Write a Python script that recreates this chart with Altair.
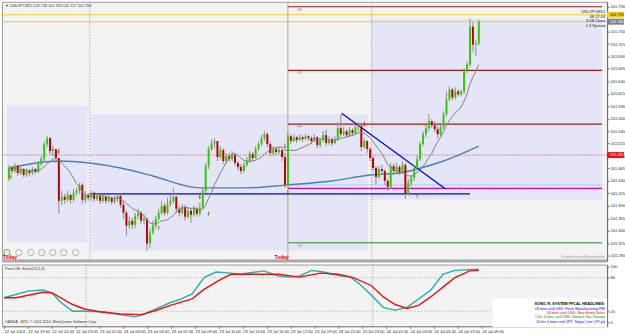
import json
import altair as alt
import pandas as pd

FONT = "Liberation Sans"

# ---------------- data ----------------
open0 = 101.444
close = [101.466, 101.460, 101.470, 101.456, 101.464, 101.452, 101.460, 101.456, 101.464, 101.458,
         101.474, 101.484, 101.514, 101.526, 101.500, 101.504, 101.486, 101.400, 101.408, 101.402,
         101.412, 101.402, 101.416, 101.420, 101.432, 101.402, 101.412, 101.406, 101.416, 101.404,
         101.410, 101.400, 101.408, 101.400, 101.406, 101.398, 101.404, 101.410, 101.392, 101.376,
         101.350, 101.360, 101.352, 101.370, 101.376, 101.360, 101.364, 101.314, 101.336, 101.350,
         101.364, 101.376, 101.390, 101.376, 101.394, 101.400, 101.408, 101.384, 101.376, 101.388,
         101.368, 101.380, 101.372, 101.384, 101.374, 101.386, 101.420, 101.470, 101.504, 101.516,
         101.520, 101.488, 101.502, 101.480, 101.490, 101.484, 101.492, 101.476, 101.468, 101.460,
         101.472, 101.480, 101.494, 101.486, 101.504, 101.514, 101.526, 101.534, 101.514, 101.496,
         101.504, 101.498, 101.502, 101.488, 101.432, 101.530, 101.520, 101.528, 101.522, 101.528,
         101.524, 101.530, 101.526, 101.520, 101.528, 101.512, 101.522, 101.532, 101.516, 101.524,
         101.516, 101.524, 101.546, 101.534, 101.540, 101.532, 101.542, 101.536, 101.548, 101.550,
         101.508, 101.520, 101.504, 101.486, 101.466, 101.448, 101.464, 101.460, 101.440, 101.428,
         101.470, 101.460, 101.468, 101.458, 101.472, 101.414, 101.436, 101.446, 101.466, 101.484,
         101.514, 101.534, 101.546, 101.560, 101.552, 101.544, 101.534, 101.548, 101.574, 101.604,
         101.624, 101.608, 101.620, 101.614, 101.620, 101.660, 101.674, 101.750, 101.714, 101.716,
         101.760]
high = [101.472, 101.470, 101.476, 101.472, 101.468, 101.466, 101.466, 101.464, 101.468, 101.466,
        101.480, 101.490, 101.520, 101.530, 101.528, 101.510, 101.504, 101.486, 101.420, 101.414,
        101.420, 101.414, 101.424, 101.426, 101.436, 101.436, 101.420, 101.416, 101.420, 101.418,
        101.416, 101.414, 101.412, 101.410, 101.412, 101.408, 101.410, 101.414, 101.412, 101.400,
        101.380, 101.368, 101.366, 101.376, 101.384, 101.380, 101.372, 101.366, 101.344, 101.360,
        101.370, 101.384, 101.400, 101.396, 101.406, 101.412, 101.426, 101.410, 101.390, 101.394,
        101.392, 101.386, 101.384, 101.390, 101.388, 101.396, 101.428, 101.476, 101.510, 101.524,
        101.526, 101.520, 101.510, 101.506, 101.496, 101.496, 101.500, 101.496, 101.480, 101.474,
        101.478, 101.488, 101.500, 101.498, 101.510, 101.520, 101.532, 101.540, 101.538, 101.518,
        101.510, 101.508, 101.508, 101.504, 101.496, 101.538, 101.534, 101.534, 101.530, 101.534,
        101.532, 101.534, 101.532, 101.530, 101.534, 101.530, 101.526, 101.540, 101.544, 101.530,
        101.528, 101.530, 101.558, 101.574, 101.548, 101.544, 101.548, 101.546, 101.554, 101.558,
        101.552, 101.526, 101.522, 101.508, 101.490, 101.470, 101.470, 101.472, 101.464, 101.444,
        101.476, 101.474, 101.476, 101.472, 101.480, 101.476, 101.444, 101.452, 101.472, 101.492,
        101.520, 101.540, 101.552, 101.574, 101.564, 101.560, 101.550, 101.554, 101.580, 101.620,
        101.630, 101.626, 101.628, 101.624, 101.624, 101.666, 101.680, 101.766, 101.760, 101.724,
        101.764]
low = [101.440, 101.454, 101.456, 101.450, 101.452, 101.448, 101.448, 101.450, 101.452, 101.454,
       101.456, 101.470, 101.480, 101.508, 101.494, 101.490, 101.476, 101.374, 101.392, 101.394,
       101.398, 101.394, 101.398, 101.410, 101.414, 101.394, 101.396, 101.400, 101.400, 101.398,
       101.400, 101.394, 101.396, 101.394, 101.396, 101.392, 101.394, 101.398, 101.386, 101.364,
       101.330, 101.344, 101.344, 101.346, 101.364, 101.354, 101.352, 101.300, 101.306, 101.332,
       101.344, 101.360, 101.372, 101.370, 101.372, 101.388, 101.394, 101.376, 101.368, 101.372,
       101.360, 101.364, 101.356, 101.368, 101.368, 101.370, 101.384, 101.416, 101.464, 101.500,
       101.506, 101.480, 101.484, 101.474, 101.474, 101.478, 101.480, 101.470, 101.460, 101.454,
       101.456, 101.468, 101.476, 101.480, 101.484, 101.500, 101.510, 101.520, 101.508, 101.490,
       101.490, 101.492, 101.494, 101.480, 101.426, 101.428, 101.514, 101.518, 101.516, 101.520,
       101.518, 101.522, 101.520, 101.514, 101.518, 101.506, 101.508, 101.518, 101.510, 101.512,
       101.510, 101.514, 101.520, 101.528, 101.530, 101.526, 101.528, 101.530, 101.532, 101.540,
       101.500, 101.504, 101.496, 101.480, 101.460, 101.434, 101.444, 101.454, 101.432, 101.420,
       101.424, 101.454, 101.456, 101.452, 101.456, 101.404, 101.410, 101.430, 101.440, 101.462,
       101.480, 101.510, 101.528, 101.540, 101.546, 101.538, 101.526, 101.530, 101.544, 101.570,
       101.600, 101.602, 101.604, 101.610, 101.610, 101.614, 101.656, 101.670, 101.700, 101.690,
       101.712]

# slow moving average
ma_bars = [0, 17, 38, 49, 65, 80, 95, 110, 123, 133, 139, 148, 160]
ma_vals = [101.466, 101.480, 101.466, 101.450, 101.426, 101.426, 101.432, 101.440,
           101.452, 101.456, 101.464, 101.480, 101.510]

# session boxes
box_x0 = [-0.67, 27.7, 123.3]
box_x1 = [26.7, 122.3, 202]
box_hi = [101.592, 101.574, 101.766]
box_lo = [101.316, 101.300, 101.402]

# horizontal levels
yellow_levels = [101.774, 101.760]
prev_close_level = [101.492]
pivot_levels = [101.790, 101.662, 101.554]
pivot_names = ["R2", "R1", "PP"]
cyan_level = [101.432]
magenta_level = [101.425]
green_level = [101.316]
green_name = ["S2"]
support_level = [101.414]
support_from = [27.7]
support_to = [157]
trend_bars = [113.3, 148.7]
trend_vals = [101.576, 101.424]

today_bar = 95
day_separators = [27.5, 123.5]

down_bars = [17, 65, 94, 121]
down_prices = [101.500, 101.408, 101.510, 101.554]
up_bars = [0.7, 51, 68, 95, 139]
up_prices = [101.448, 101.346, 101.374, 101.416, 101.410]

price_ticks = [101.290, 101.315, 101.340, 101.365, 101.390, 101.415, 101.440, 101.465,
               101.490, 101.515, 101.540, 101.565, 101.590, 101.615, 101.640, 101.665,
               101.690, 101.715, 101.740, 101.790]

time_tick_bars = [0, 8, 16, 24, 32, 40, 48, 56, 64, 72, 80, 88, 96, 104, 112, 120, 128, 136, 144, 152, 160]
time_labels = ["22 Jul 2014", "22 Jul 19:00", "22 Jul 21:00", "22 Jul 23:00", "23 Jul 01:00",
               "23 Jul 03:00", "23 Jul 05:00", "23 Jul 07:00", "23 Jul 09:00", "23 Jul 11:00",
               "23 Jul 13:00", "23 Jul 15:00", "23 Jul 17:00", "23 Jul 19:00", "23 Jul 21:00",
               "23 Jul 23:00", "24 Jul 01:00", "24 Jul 03:00", "24 Jul 05:00", "24 Jul 07:00",
               "24 Jul 09:00"]

teal_bars = [0, 8, 13, 16, 19, 23, 27, 33, 39, 44, 47, 52, 56, 59, 63, 67, 71, 76, 79, 87,
             92, 96, 99, 103, 107, 113, 116, 119, 123, 127, 131, 135, 143, 147, 151, 159]
teal_vals = [44, 56, 58, 53, 36, 20, 20, 19, 14, 10, 15, 27, 36, 41, 51, 80, 90, 88, 86, 92,
             83, 81, 83, 93, 90, 83, 81, 69, 49, 27, 22, 27, 58, 86, 93, 95]
red_bars = [0, 4, 13, 16, 23, 27, 32, 39, 46, 50, 56, 63, 67, 72, 76, 84, 92, 99, 106, 112,
            117, 123, 127, 131, 135, 139, 143, 147, 151, 156, 159]
red_vals = [44, 44, 54, 53, 32, 24, 19, 15, 14, 20, 31, 42, 59, 75, 86, 86, 86, 81, 88, 86,
            80, 66, 46, 32, 25, 31, 46, 63, 80, 92, 93]
stoch_levels = [20, 80]
stoch_ticks = [0, 20, 80, 100]

news_lines = ["18 mins until USD: Flash Manufacturing PMI",
              "34 mins until USD: New Home Sales",
              "1 hrs 4 mins until USD: Natural Gas Storage",
              "10 hrs 4 mins until JPY: Tokyo Core CPI y/y"]
news_colors = ["#0000ee", "#ee0000", "#008800", "#0000ee"]

# ---------------- build ----------------
opens = [open0] + close[:-1]
candles = pd.DataFrame({"bar": list(range(len(close))), "open": opens, "close": close,
                        "high": high, "low": low})
candles["dir"] = ["up" if c >= o else "down" for o, c in zip(opens, close)]

MAIN_H = 260
xs = alt.Scale(domain=[-0.67, 202], nice=False, zero=False)
ys = alt.Scale(domain=[101.280, 101.800], nice=False, zero=False)
ysi = alt.Scale(domain=[-6.8, 103.4], nice=False, zero=False)

main_xaxis = alt.Axis(labels=False, ticks=False, grid=False, domainColor="#a8a8a8",
                      domainWidth=3, title=None)
main_yaxis = alt.Axis(orient="right", values=price_ticks, format=".3f", labelFontSize=4,
                      labelFont=FONT, labelColor="#222", tickSize=2, tickColor="#666",
                      labelPadding=1, grid=False, domainColor="#666", title=None)


def X(f):
    return alt.X(f"{f}:Q", scale=xs, axis=main_xaxis)


def Y(f):
    return alt.Y(f"{f}:Q", scale=ys, axis=main_yaxis)


def txt(s, x, y, size=4.0, color="#222", align="left", weight="normal"):
    return alt.Chart(pd.DataFrame({"t": [s]})).mark_text(
        text=s, fontSize=size, color=color, align=align, baseline="middle",
        fontWeight=weight, font=FONT).encode(x=alt.value(x), y=alt.value(y))


def button(x, y, color):
    return alt.Chart(pd.DataFrame({"a": [0]})).mark_point(
        shape="circle", filled=False, size=40, strokeWidth=0.8, color=color, opacity=1
    ).encode(x=alt.value(x), y=alt.value(y))


boxes = alt.Chart(pd.DataFrame({"x0": box_x0, "x1": box_x1, "hi": box_hi, "lo": box_lo})) \
    .mark_rect(color="#e5e5f8").encode(x=X("x0"), x2="x1", y=Y("hi"), y2="lo")

yellow = alt.Chart(pd.DataFrame({"p": yellow_levels})).mark_rule(color="#f0d020", strokeWidth=1) \
    .encode(y=Y("p"))
prevc = alt.Chart(pd.DataFrame({"p": prev_close_level})).mark_rule(
    color="#f04040", strokeWidth=1, strokeDash=[1, 1.5]).encode(y=Y("p"))

seps = alt.Chart(pd.DataFrame({"b": day_separators})).mark_rule(
    color="#909090", strokeWidth=1, strokeDash=[1, 2]).encode(x=X("b"))
today = alt.Chart(pd.DataFrame({"b": [today_bar]})).mark_rule(color="#b9a57e", strokeWidth=1) \
    .encode(x=X("b"))

pivots = alt.Chart(pd.DataFrame({"p": pivot_levels, "x0": [today_bar] * 3, "x1": [202] * 3})) \
    .mark_rule(color="#9b1c1c", strokeWidth=1.2).encode(x=X("x0"), x2="x1", y=Y("p"))
cyan = alt.Chart(pd.DataFrame({"p": cyan_level, "x0": [today_bar], "x1": [202]})) \
    .mark_rule(color="#40c0d0", strokeWidth=1, strokeDash=[1, 1.5]).encode(x=X("x0"), x2="x1", y=Y("p"))
magenta = alt.Chart(pd.DataFrame({"p": magenta_level, "x0": [today_bar], "x1": [202]})) \
    .mark_rule(color="#d000d0", strokeWidth=1.3).encode(x=X("x0"), x2="x1", y=Y("p"))
greenl = alt.Chart(pd.DataFrame({"p": green_level, "x0": [today_bar], "x1": [202]})) \
    .mark_rule(color="#6aa86a", strokeWidth=1.5).encode(x=X("x0"), x2="x1", y=Y("p"))

support = alt.Chart(pd.DataFrame({"p": support_level, "x0": support_from, "x1": support_to})) \
    .mark_rule(color="#0000e0", strokeWidth=1.4).encode(x=X("x0"), x2="x1", y=Y("p"))
trend = alt.Chart(pd.DataFrame({"b": trend_bars, "v": trend_vals})) \
    .mark_line(color="#0000e0", strokeWidth=1.2).encode(x=X("b"), y=Y("v"))

slow_ma = alt.Chart(pd.DataFrame({"b": ma_bars, "v": ma_vals})) \
    .mark_line(color="#4a7fb8", strokeWidth=1.4, interpolate="monotone").encode(x=X("b"), y=Y("v"))

wicks = alt.Chart(candles).mark_rule(color="#8c8c8c", strokeWidth=1).encode(
    x=X("bar"), y=Y("low"), y2="high")
bodies = alt.Chart(candles).mark_bar(size=2).encode(
    x=X("bar"), y=Y("open"), y2="close",
    color=alt.Color("dir:N", scale=alt.Scale(domain=["up", "down"], range=["#33cc00", "#bb0000"]),
                    legend=None))

fast_ma = alt.Chart(candles).transform_window(
    ma="mean(close)", frame=[-9, 0], sort=[alt.SortField("bar")]
).mark_line(color="#808080", strokeWidth=1).encode(x=X("bar"), y=Y("ma"))

down_ar = alt.Chart(pd.DataFrame({"b": down_bars, "p": down_prices})).mark_point(
    shape="arrow", filled=True, color="#ee1111", size=28, angle=180, opacity=1).encode(x=X("b"), y=Y("p"))
up_ar = alt.Chart(pd.DataFrame({"b": up_bars, "p": up_prices})).mark_point(
    shape="arrow", filled=True, color="#8a7a1a", size=28, opacity=1).encode(x=X("b"), y=Y("p"))

piv_lbl = alt.Chart(pd.DataFrame({"p": pivot_levels, "n": pivot_names, "b": [today_bar + 4] * 3})) \
    .mark_text(fontSize=3.5, color="#888", dy=3, font=FONT).encode(x=X("b"), y=Y("p"), text="n")
grn_lbl = alt.Chart(pd.DataFrame({"p": green_level, "n": green_name, "b": [today_bar + 4]})) \
    .mark_text(fontSize=3.5, color="#888", dy=3, font=FONT).encode(x=X("b"), y=Y("p"), text="n")

# right-axis price flags
flag_y = alt.Chart(pd.DataFrame({"a": [0]})).mark_rect(color="#f0d020").encode(
    x=alt.value(608), x2=alt.value(625), y=alt.value(10), y2=alt.value(16))
flag_g = alt.Chart(pd.DataFrame({"a": [0]})).mark_rect(color="#808080").encode(
    x=alt.value(608), x2=alt.value(625), y=alt.value(17), y2=alt.value(23))
flag_r = alt.Chart(pd.DataFrame({"a": [0]})).mark_rect(color="#ee1111").encode(
    x=alt.value(608), x2=alt.value(625), y=alt.value(151), y2=alt.value(157))

buttons = [button(5, 252, "#22aa22")] + [button(bx, 252, "#a0a0a0") for bx in (17, 29, 40, 51, 62, 74)]

main = alt.layer(
    boxes, yellow, prevc, seps, today, pivots, cyan, magenta, greenl, slow_ma, support, trend,
    wicks, bodies, fast_ma, down_ar, up_ar, piv_lbl, grn_lbl, flag_y, flag_g, flag_r,
    txt("101.774", 611, 13, 3.8, "#000"),
    txt("101.760", 611, 20, 3.8, "#fff"),
    txt("101.492", 611, 154, 3.8, "#fff"),
    txt("\u25bc USDJPY,M15  101.733 101.763 101.727 101.763", 3, 4, 3.8, "#333"),
    txt("USDJPY,M15", 606, 10, 4, "#222", "right"),
    txt("08:27:03", 606, 15, 4, "#222", "right"),
    txt("3:08 Close", 606, 19.5, 4, "#222", "right"),
    txt("1.3 Spread", 606, 24, 4, "#222", "right"),
    txt("Today", 281, 256, 5, "#e00000", "center", "bold"),
    txt("Today", 8, 256, 5, "#e00000", "center", "bold"),
    *buttons,
    txt("Bismillah www.Alhamdulillah", 606, 256, 3.5, "#999", "right"),
).properties(width=608, height=MAIN_H)

# ---------------- indicator panel ----------------
ind_xaxis = alt.Axis(values=time_tick_bars,
                     labelExpr=f"{json.dumps(time_labels)}[round(datum.value/8)]",
                     labelAlign="left", labelBaseline="top", labelFontSize=4, labelFont=FONT,
                     labelPadding=1, tickSize=2, tickColor="#666", grid=False, domainColor="#888",
                     labelColor="#222", labelFlush=False, labelOverlap=False, title=None)
ind_yaxis = alt.Axis(orient="right", values=stoch_ticks, labelFontSize=4, labelFont=FONT,
                     tickSize=2, tickColor="#666", grid=False, title=None, labelPadding=1,
                     labelColor="#222", domainColor="#666")


def XI(f):
    return alt.X(f"{f}:Q", scale=xs, axis=ind_xaxis)


def YI(f):
    return alt.Y(f"{f}:Q", scale=ysi, axis=ind_yaxis)


lv = alt.Chart(pd.DataFrame({"v": stoch_levels})).mark_rule(
    color="#aaaaaa", strokeWidth=1, strokeDash=[1, 2]).encode(y=YI("v"))
iseps = alt.Chart(pd.DataFrame({"b": day_separators})).mark_rule(
    color="#909090", strokeWidth=1, strokeDash=[1, 2]).encode(x=XI("b"))
teal = alt.Chart(pd.DataFrame({"b": teal_bars, "v": teal_vals})).mark_line(
    color="#22b0a8", strokeWidth=1.4).encode(x=XI("b"), y=YI("v"))
redl = alt.Chart(pd.DataFrame({"b": red_bars, "v": red_vals})).mark_line(
    color="#ee1111", strokeWidth=1.4).encode(x=XI("b"), y=YI("v"))
newsbox = alt.Chart(pd.DataFrame({"a": [0]})).mark_rect(color="#ffffff").encode(
    x=alt.value(493), x2=alt.value(608), y=alt.value(34), y2=alt.value(63))

news_layers = [txt(s, 606, 44.5 + 4.3 * i, 3.6, c, "right") for i, (s, c) in
               enumerate(zip(news_lines, news_colors))]

ind = alt.layer(
    lv, iseps, teal, redl, newsbox,
    txt("SONIC R. SYSTEM  FFCAL HEADLINES:", 606, 39.5, 3.8, "#000", "right", "bold"),
    *news_layers,
    txt("Pencil HL Stoch(13,3,3)", 3, 4, 3.8, "#333"),
    txt("OANDA - MT4, \u00a9 2001-2014, MetaQuotes Software Corp.", 3, 58, 3.6, "#333"),
).properties(width=608, height=62)

chart = alt.vconcat(main, ind, spacing=2).properties(
    padding=0, background="#ffffff"
).configure(font=FONT).configure_view(stroke="#9a9a9a", strokeWidth=1, fill="#f3f3f3")

chart.save("out.html", embed_options={"renderer": "svg", "actions": False})
